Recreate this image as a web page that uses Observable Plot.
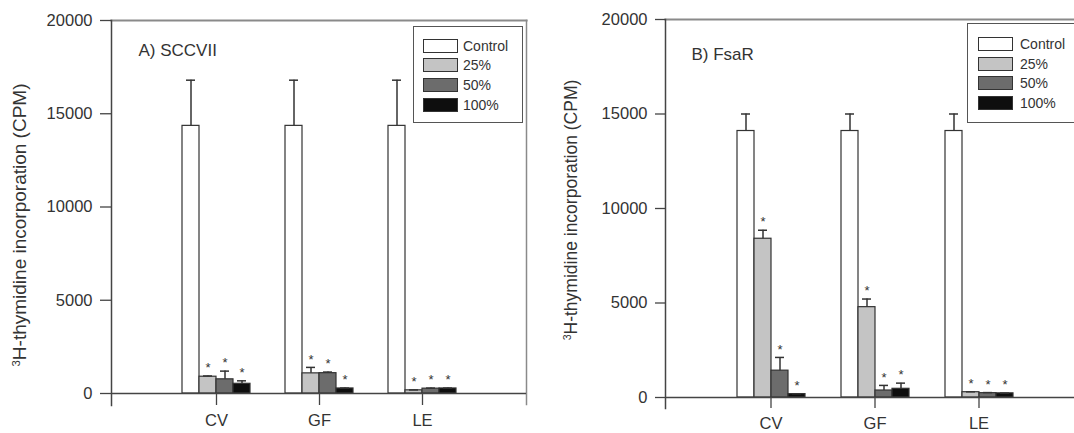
<!DOCTYPE html>
<html>
<head>
<meta charset="utf-8">
<script src="https://cdn.jsdelivr.net/npm/d3@7"></script>
<script src="https://cdn.jsdelivr.net/npm/@observablehq/plot@0.6"></script>
<style>
  body { margin: 0; background: #fff; font-family: "Liberation Sans", Arial, sans-serif; }
  #wrap { position: relative; width: 1074px; height: 433px; overflow: hidden; background: #fff; }
  .panel { position: absolute; top: 0; }
  .ytitle { position: absolute; white-space: nowrap; color: #333; transform: translate(-50%, -50%) rotate(-90deg); }
  .ytitle sup { font-size: 0.6em; vertical-align: 0.55em; }
  .legend { position: absolute; border: 1.5px solid #555; background: #fff; box-sizing: border-box; }
  .legend .row { position: absolute; display: flex; align-items: center; color: #333; font-size: 14px; white-space: nowrap; }
  .legend .sw { height: 14px; border: 1.2px solid #333; box-sizing: border-box; }
</style>
</head>
<body>
<div id="wrap"></div>
<script>
// ---------- data ----------
const categories = ["CV", "GF", "LE"];
const series = ["Control", "25%", "50%", "100%"];
const yTicks = [0, 5000, 10000, 15000, 20000];
const yTitle = "H-thymidine incorporation (CPM)";

// Panel A) SCCVII  (values per category CV, GF, LE)
const aControl = [14350, 14350, 14350];
const aControlErr = [2450, 2450, 2450];
const a25 = [900, 1080, 170];
const a25Err = [40, 320, 20];
const a50 = [760, 1090, 260];
const a50Err = [440, 60, 30];
const a100 = [520, 270, 270];
const a100Err = [160, 20, 20];

// Panel B) FsaR
const bControl = [14100, 14100, 14100];
const bControlErr = [900, 900, 900];
const b25 = [8400, 4780, 280];
const b25Err = [450, 430, 20];
const b50 = [1420, 370, 230];
const b50Err = [700, 270, 30];
const b100 = [180, 460, 220];
const b100Err = [20, 300, 10];

// significance (* above treated bars)
const significant = [false, true, true, true];

// ---------- styles ----------
const fills = { "Control": "#ffffff", "25%": "#c4c4c4", "50%": "#6c6c6c", "100%": "#0e0e0e" };
const FONT = "'Liberation Sans', Arial, sans-serif";

function rowsOf(means, errs) {
  const rows = [];
  categories.forEach((cat, i) => {
    series.forEach((s, j) => {
      rows.push({ cat, series: s, mean: means[j][i], err: errs[j][i], sig: significant[j] });
    });
  });
  return rows;
}

const rowsA = rowsOf([aControl, a25, a50, a100], [aControlErr, a25Err, a50Err, a100Err]);
const rowsB = rowsOf([bControl, b25, b50, b100], [bControlErr, b25Err, b50Err, b100Err]);

function common(o) {
  return {
    width: o.width,
    height: 433,
    marginLeft: o.ml, marginRight: o.mr, marginTop: o.mt, marginBottom: o.mb,
    y: { domain: [0, 20000], axis: null },
    style: { fontFamily: FONT, color: "#333", background: "transparent", overflow: "visible" }
  };
}

// bars, error bars, asterisks and category axis (faceted by category)
function barsPlot(rows, o) {
  return Plot.plot({
    ...common(o),
    fx: { domain: categories, paddingInner: 0.34, paddingOuter: 0.67 },
    x: { domain: series, padding: 0, axis: null },
    marks: [
      Plot.barY(rows, { fx: "cat", x: "series", y: "mean", fill: d => fills[d.series], stroke: "#333", strokeWidth: 1.2 }),
      Plot.ruleX(rows, { fx: "cat", x: "series", y1: "mean", y2: d => d.mean + d.err, stroke: "#333", strokeWidth: 1.5 }),
      Plot.tickY(rows, { fx: "cat", x: "series", y: d => d.mean + d.err, stroke: "#333", strokeWidth: 1.5, insetLeft: 4, insetRight: 4 }),
      Plot.text(rows.filter(d => d.sig), { fx: "cat", x: "series", y: d => d.mean + d.err, text: () => "*", dy: -8, fontSize: 13, fill: "#333" }),
      Plot.axisFx({ anchor: "bottom", tickSize: o.ext, tickPadding: o.fxPad, fontSize: 16.5, label: null, stroke: "#444", strokeWidth: 1.3 })
    ]
  });
}

// frame, zero line, y axis and panel title (same y scale, drawn on top)
function framePlot(o) {
  return Plot.plot({
    ...common(o),
    marks: [
      Plot.frame({ anchor: "top", stroke: "#8a8a8a", strokeWidth: 2.2 }),
      Plot.frame({ anchor: "right", stroke: "#8a8a8a", strokeWidth: 1.5, strokeDasharray: "1.5,1", insetBottom: -o.ext }),
      Plot.frame({ anchor: "left", stroke: "#444", strokeWidth: 1.5, insetBottom: -o.ext }),
      Plot.ruleY([0], { stroke: "#444", strokeWidth: 1.5 }),
      Plot.axisY({ ticks: yTicks, tickSize: o.tickSize, tickPadding: 8, tickFormat: d3.format("d"), fontSize: 16.5, label: null, stroke: "#444", strokeWidth: 1.3 }),
      Plot.text([o.title], { frameAnchor: "top-left", dx: o.tdx, dy: o.tdy, fontSize: 17, textAnchor: "start", fill: "#333" })
    ]
  });
}

const wrap = document.getElementById("wrap");

function place(node, left) {
  node.classList.add("panel");
  node.style.left = left + "px";
  wrap.appendChild(node);
}

const optA = { width: 545, ml: 111, mr: 19, mt: 20, mb: 40, ext: 12, tickSize: 11, fxPad: 9,
  title: "A) SCCVII", tdx: 27, tdy: 23 };
const optB = { width: 560, ml: 120, mr: 22, mt: 19, mb: 36, ext: 11, tickSize: 10, fxPad: 9,
  title: "B) FsaR", tdx: 26, tdy: 28 };
place(barsPlot(rowsA, optA), 0);
place(framePlot(optA), 0);
place(barsPlot(rowsB, optB), 545);
place(framePlot(optB), 545);

function yLabel(cx, cy, size) {
  const d = document.createElement("div");
  d.className = "ytitle";
  d.style.left = cx + "px";
  d.style.top = cy + "px";
  d.style.fontSize = size + "px";
  d.innerHTML = "<sup>3</sup>" + yTitle;
  wrap.appendChild(d);
}
yLabel(20, 225, 19);
yLabel(571, 210, 17.5);

function legend(box, rowTops, swLeft, swW, gap) {
  const lg = document.createElement("div");
  lg.className = "legend";
  Object.assign(lg.style, { left: box[0] + "px", top: box[1] + "px", width: box[2] + "px", height: box[3] + "px" });
  series.forEach((s, j) => {
    const r = document.createElement("div");
    r.className = "row";
    r.style.left = swLeft + "px";
    r.style.top = (rowTops[j] - box[1] - 9) + "px";
    r.style.height = "18px";
    const sw = document.createElement("div");
    sw.className = "sw";
    sw.style.background = fills[s];
    sw.style.width = swW + "px";
    sw.style.marginRight = gap + "px";
    const t = document.createElement("span");
    t.textContent = s;
    r.appendChild(sw); r.appendChild(t);
    lg.appendChild(r);
  });
  wrap.appendChild(lg);
}
legend([413, 26, 110, 97], [45, 64, 84, 104], 9, 35, 5);
legend([967, 23, 140, 100], [43, 63, 82, 102], 10, 35, 7);
</script>
</body>
</html>
